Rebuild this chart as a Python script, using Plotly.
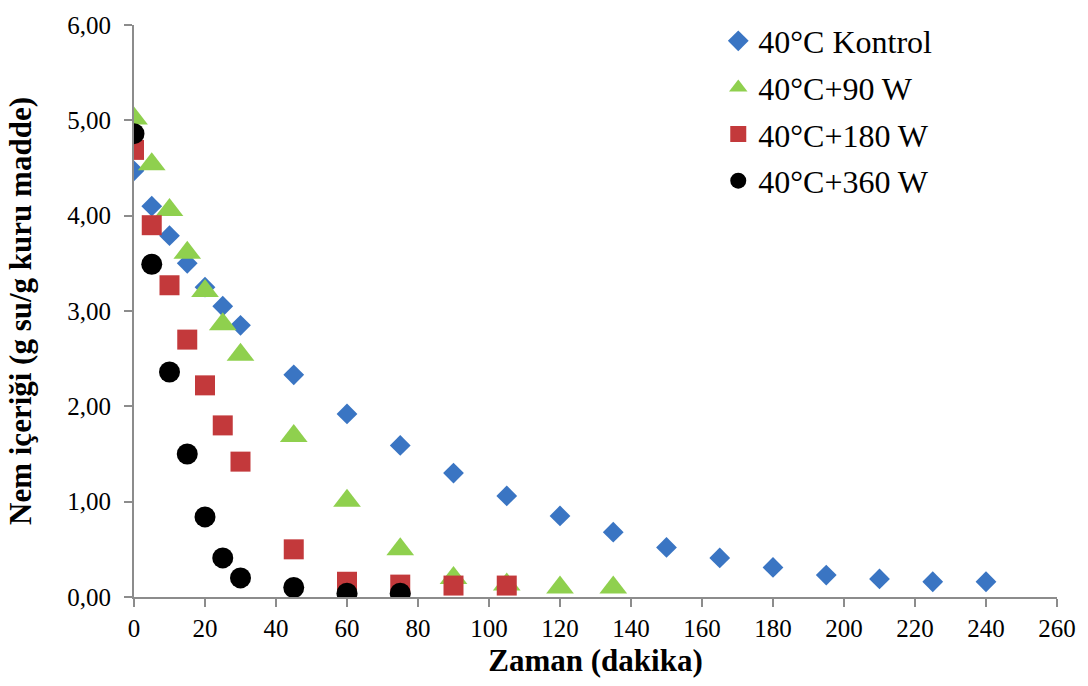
import plotly.graph_objects as go

# Drying time (minutes)
time_kontrol = [0, 5, 10, 15, 20, 25, 30, 45, 60, 75, 90, 105, 120, 135, 150, 165, 180, 195, 210, 225, 240]
time_90w = [0, 5, 10, 15, 20, 25, 30, 45, 60, 75, 90, 105, 120, 135]
time_180w = [0, 5, 10, 15, 20, 25, 30, 45, 60, 75, 90, 105]
time_360w = [0, 5, 10, 15, 20, 25, 30, 45, 60, 75]

# Moisture content (g water / g dry matter)
nem_kontrol = [4.47, 4.10, 3.79, 3.50, 3.25, 3.05, 2.85, 2.33, 1.92, 1.59, 1.30, 1.06, 0.85, 0.68,
               0.52, 0.41, 0.31, 0.23, 0.19, 0.16, 0.16]
nem_90w = [5.02, 4.54, 4.06, 3.61, 3.21, 2.86, 2.54, 1.69, 1.01, 0.50, 0.20, 0.13, 0.10, 0.10]
nem_180w = [4.69, 3.90, 3.27, 2.70, 2.22, 1.80, 1.42, 0.50, 0.16, 0.13, 0.12, 0.12]
nem_360w = [4.86, 3.49, 2.36, 1.50, 0.84, 0.41, 0.20, 0.10, 0.04, 0.04]

series = [
    ("40°C Kontrol", time_kontrol, nem_kontrol, "diamond", "#3a75c3", 16),
    ("40°C+90 W", time_90w, nem_90w, "triangle-up", "#8fd04e", 24),
    ("40°C+180 W", time_180w, nem_180w, "square", "#c3393b", 20),
    ("40°C+360 W", time_360w, nem_360w, "circle", "#000000", 21),
]

FONT = "Liberation Serif, Times New Roman, serif"
AXIS_GRAY = "#8c8c8c"

fig = go.Figure()
for i, (name, xs, ys, symbol, color, size) in enumerate(series):
    fig.add_trace(go.Scatter(
        x=xs, y=ys, mode="markers", name=name, legendgroup=f"g{i}",
        marker=dict(symbol=symbol, color=color, size=size, line=dict(width=0)),
    ))

fig.update_layout(
    width=1088, height=686,
    margin=dict(l=134, r=31, t=20, b=89),
    paper_bgcolor="white", plot_bgcolor="white",
    separators=",.",
    font=dict(family=FONT, color="black"),
    showlegend=True,
    legend=dict(
        x=0.633, y=1.02, xanchor="left", yanchor="top",
        font=dict(family=FONT, size=32, color="black"),
        bgcolor="rgba(0,0,0,0)", tracegroupgap=2, itemsizing="trace",
    ),
    xaxis=dict(
        range=[0, 260], dtick=20, tick0=0,
        showgrid=False, zeroline=False,
        showline=True, linecolor=AXIS_GRAY, linewidth=2,
        ticks="outside", ticklen=8, tickcolor=AXIS_GRAY, tickwidth=2,
        tickfont=dict(family=FONT, size=25, color="black"),
        title=dict(text="<b>Zaman (dakika)</b>", font=dict(family=FONT, size=31, color="black"), standoff=8),
    ),
    yaxis=dict(
        range=[0, 6], dtick=1, tick0=0, tickformat=".2f",
        showgrid=False, zeroline=False,
        showline=True, linecolor=AXIS_GRAY, linewidth=2,
        ticks="outside", ticklen=8, tickcolor=AXIS_GRAY, tickwidth=2, ticklabelstandoff=8,
        tickfont=dict(family=FONT, size=25, color="black"),
        title=dict(text="<b>Nem içeriği (g su/g kuru madde)</b>", font=dict(family=FONT, size=31, color="black"), standoff=26),
    ),
)

fig.write_html("out.html")
